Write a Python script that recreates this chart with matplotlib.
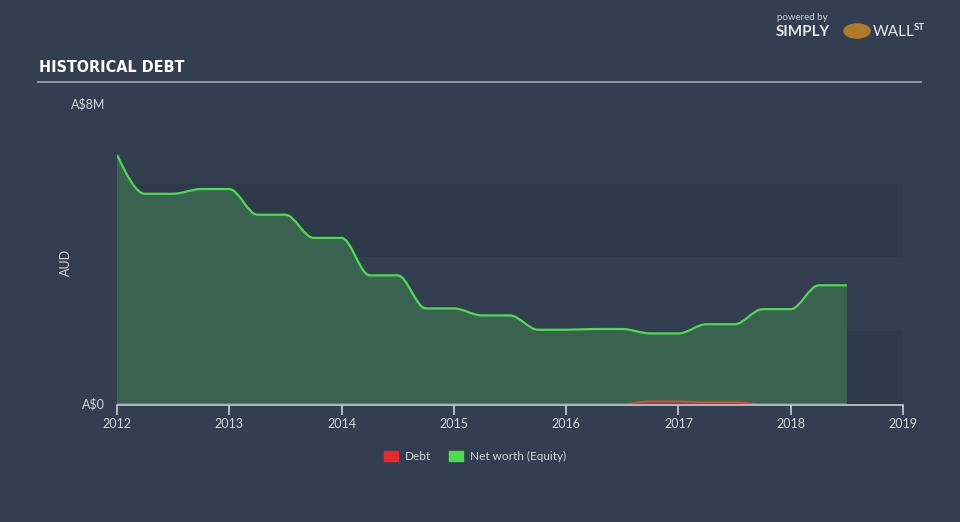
import numpy as np
import matplotlib
matplotlib.use('Agg')
from matplotlib import pyplot as plt
from matplotlib.path import Path
from matplotlib.patches import PathPatch, Rectangle, Circle

# quarterly reporting dates (decimal years)
dates = [2012.0, 2012.25, 2012.5, 2012.75, 2013.0, 2013.25, 2013.5, 2013.75,
         2014.0, 2014.25, 2014.5, 2014.75, 2015.0, 2015.25, 2015.5, 2015.75,
         2016.0, 2016.25, 2016.5, 2016.75, 2017.0, 2017.25, 2017.5, 2017.75,
         2018.0, 2018.25, 2018.5]

# values in A$ millions
net_worth = [6.78, 5.72, 5.72, 5.85, 5.85, 5.15, 5.15, 4.52,
             4.52, 3.50, 3.50, 2.60, 2.60, 2.41, 2.41, 2.02,
             2.02, 2.04, 2.04, 1.92, 1.92, 2.17, 2.17, 2.58,
             2.58, 3.23, 3.23]
debt = [0, 0, 0, 0, 0, 0, 0, 0,
        0, 0, 0, 0, 0, 0, 0, 0,
        0, 0, 0, 0.07, 0.07, 0.045, 0.045, 0,
        0, 0, 0]

year_ticks = [2012, 2013, 2014, 2015, 2016, 2017, 2018, 2019]
y_labels = {0: 'A$0', 8: 'A$8M'}

BG = '#333f50'
BAND = '#2e3a4a'
GREEN = '#4ddc4d'
GREEN_FILL = '#3a6250'
RED = '#e8282a'
RED_LINE = '#e2502c'
TXT = '#d2d7de'


def monotone_tangents(x, y):
    # d3 monotoneX style tangents
    n = len(x)
    t = np.zeros(n)
    for i in range(1, n - 1):
        h0 = x[i] - x[i - 1]
        h1 = x[i + 1] - x[i]
        s0 = (y[i] - y[i - 1]) / h0
        s1 = (y[i + 1] - y[i]) / h1
        p = (s0 * h1 + s1 * h0) / (h0 + h1)
        t[i] = (np.sign(s0) + np.sign(s1)) * min(abs(s0), abs(s1), 0.5 * abs(p))
    h = x[1] - x[0]
    t[0] = (3 * (y[1] - y[0]) / h - t[1]) / 2
    h = x[-1] - x[-2]
    t[-1] = (3 * (y[-1] - y[-2]) / h - t[-2]) / 2
    return t


def smooth_path(x, y, close=False):
    x = np.asarray(x, float)
    y = np.asarray(y, float)
    t = monotone_tangents(x, y)
    verts = [(x[0], y[0])]
    codes = [Path.MOVETO]
    for i in range(len(x) - 1):
        dx = (x[i + 1] - x[i]) / 3
        verts += [(x[i] + dx, y[i] + dx * t[i]),
                  (x[i + 1] - dx, y[i + 1] - dx * t[i + 1]),
                  (x[i + 1], y[i + 1])]
        codes += [Path.CURVE4] * 3
    if close:
        verts += [(x[-1], 0), (x[0], 0), (x[0], y[0])]
        codes += [Path.LINETO, Path.LINETO, Path.CLOSEPOLY]
    return Path(verts, codes)


fig = plt.figure(figsize=(9.6, 5.22), dpi=100, facecolor=BG)
ax = fig.add_axes([117 / 960, 1 - 404 / 522, 786 / 960, 294 / 522])
ax.set_facecolor(BG)
ax.set_xlim(2012, 2019)
ax.set_ylim(0, 8)

for lo in (0, 4):
    ax.axhspan(lo, lo + 2, color=BAND, lw=0, zorder=0)

ax.add_patch(PathPatch(smooth_path(dates, net_worth, close=True), facecolor=GREEN_FILL,
                       edgecolor='none', zorder=2))
ax.add_patch(PathPatch(smooth_path(dates, net_worth), facecolor='none', edgecolor=GREEN,
                       lw=1.6, zorder=4))
ax.add_patch(PathPatch(smooth_path(dates, debt, close=True), facecolor=RED, alpha=0.45,
                       edgecolor='none', zorder=3))
ax.add_patch(PathPatch(smooth_path(dates, debt), facecolor='none', edgecolor=RED_LINE,
                       lw=1.2, zorder=6))

for s in ['top', 'right', 'left']:
    ax.spines[s].set_visible(False)
ax.spines['bottom'].set_color('#c5ccd5')
ax.spines['bottom'].set_linewidth(1.2)
ax.spines['bottom'].set_position(('outward', 1))
ax.spines['bottom'].set_zorder(5)

ax.set_xticks(year_ticks)
ax.set_xticklabels([str(y) for y in year_ticks], color=TXT, fontsize=9, family='Lato')
ax.tick_params(axis='x', length=7, width=1.2, color='#c5ccd5', pad=2)
ax.set_yticks([])

for v, lab in y_labels.items():
    ax.text(-0.015, v, lab, transform=ax.get_yaxis_transform(), ha='right',
            va='center' if v == 0 else 'bottom', color=TXT, fontsize=9, family='Lato')
fig.text(66 / 960, 1 - 262 / 522, 'AUD', rotation=90, ha='center', va='center',
         color=TXT, fontsize=9, family='Lato')

# title and rule
fig.text(39 / 960, 1 - 68 / 522, 'HISTORICAL DEBT', color='white', fontsize=11.5,
         fontweight='bold', fontstretch='condensed', family='DejaVu Sans', va='center')
fig.add_artist(plt.Line2D([38 / 960, 921 / 960], [1 - 82 / 522, 1 - 82 / 522],
                          color='#a4abb6', lw=1.2))

# legend
fig.add_artist(Rectangle((384 / 960, 1 - 461 / 522), 14 / 960, 10 / 522, color=RED))
fig.text(405 / 960, 1 - 456 / 522, 'Debt', color=TXT, fontsize=8.5, va='center', family='Lato')
fig.add_artist(Rectangle((449 / 960, 1 - 461 / 522), 14 / 960, 10 / 522, color='#4be04b'))
fig.text(470 / 960, 1 - 456 / 522, 'Net worth (Equity)', color=TXT, fontsize=8.5,
         va='center', family='Lato')

# branding
fig.text(777 / 960, 1 - 18 / 522, 'powered by', color='#c8cdd4', fontsize=7, va='center',
         family='Lato')
fig.text(776 / 960, 1 - 32 / 522, 'SIMPLY', color='#e6e9ed', fontsize=11, fontweight='bold',
         va='center', family='Lato')
fig.add_artist(Circle((857 / 960, 1 - 31 / 522), 13 / 960, color='#b07a2a',
                      transform=fig.transFigure))
fig.text(873 / 960, 1 - 32 / 522, 'WALL', color='#e6e9ed', fontsize=11, va='center',
         family='Lato')
fig.text(914 / 960, 1 - 28 / 522, 'ST', color='#e6e9ed', fontsize=7, fontweight='bold',
         va='center', family='Lato')

plt.savefig('out.png', dpi=100, facecolor=BG)
